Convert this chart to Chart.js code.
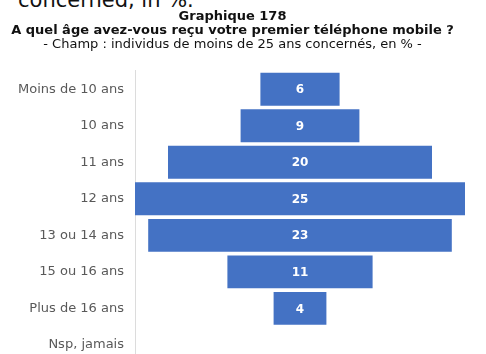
<!DOCTYPE html>
<html>
<head>
<meta charset="utf-8">
<script src="https://cdn.jsdelivr.net/npm/chart.js@4.4.1/dist/chart.umd.min.js"></script>
<style>
  html, body { margin: 0; padding: 0; background: #fff; overflow: hidden; width: 486px; height: 354px; }
  #cut { position: absolute; left: 18px; top: -10px; font: 21px/20px "DejaVu Sans", Verdana, sans-serif; color: #111; white-space: nowrap; }
  #wrap { position: absolute; left: 0; top: 0; width: 486px; height: 374px; }
</style>
</head>
<body>
<div id="cut">concerned, in %.</div>
<div id="wrap"><canvas id="myChart"></canvas></div>
<script>
const categories = ['Moins de 10 ans', '10 ans', '11 ans', '12 ans', '13 ou 14 ans', '15 ou 16 ans', 'Plus de 16 ans', 'Nsp, jamais'];
const values = [6, 9, 20, 25, 23, 11, 4, null];
const titleLines = ['Graphique 178', 'A quel âge avez-vous reçu votre premier téléphone mobile ?'];
const subtitleText = '- Champ : individus de moins de 25 ans concernés, en % -';

// bars centred on zero
const spans = values.map(v => v == null ? null : [-v / 2, v / 2]);

const valueLabels = {
    id: 'valueLabels',
    afterDatasetsDraw(chart) {
        const ctx = chart.ctx;
        const meta = chart.getDatasetMeta(0);
        ctx.save();
        ctx.fillStyle = '#ffffff';
        ctx.font = 'bold 12px "DejaVu Sans", Verdana, sans-serif';
        ctx.textAlign = 'center';
        ctx.textBaseline = 'middle';
        meta.data.forEach((bar, i) => {
            if (values[i] == null) return;
            const c = bar.getCenterPoint();
            ctx.fillText(values[i], c.x, c.y + 1);
        });
        ctx.restore();
    }
};

const ctx = document.getElementById('myChart').getContext('2d');
const ageChart = new Chart(ctx, {
    type: 'bar',
    data: {
        labels: categories,
        datasets: [{
            data: spans,
            backgroundColor: '#4472c4',
            borderWidth: 0,
            barPercentage: 0.9,
            categoryPercentage: 1
        }]
    },
    options: {
        indexAxis: 'y',
        responsive: true,
        maintainAspectRatio: false,
        animation: false,
        layout: {
            padding: { top: 0, right: 21, bottom: 0, left: 0 }
        },
        scales: {
            x: {
                display: false,
                min: -12.5,
                max: 12.5
            },
            y: {
                grid: { display: false },
                border: { display: true, color: '#dcdcdc', width: 1 },
                ticks: {
                    color: '#595959',
                    padding: 3,
                    font: { family: '"DejaVu Sans", Verdana, sans-serif', size: 13 }
                },
                afterFit: function(scale) { scale.width = 135; }
            }
        },
        plugins: {
            legend: { display: false },
            tooltip: { enabled: false },
            title: {
                display: true,
                text: titleLines,
                color: '#111',
                font: { family: '"DejaVu Sans", Verdana, sans-serif', size: 13, weight: 'bold', lineHeight: 1.05 },
                padding: { top: 10, bottom: 0 }
            },
            subtitle: {
                display: true,
                text: subtitleText,
                color: '#111',
                font: { family: '"DejaVu Sans", Verdana, sans-serif', size: 13, lineHeight: 1.05 },
                padding: { top: 0, bottom: 20 }
            }
        }
    },
    plugins: [valueLabels]
});
</script>
</body>
</html>
